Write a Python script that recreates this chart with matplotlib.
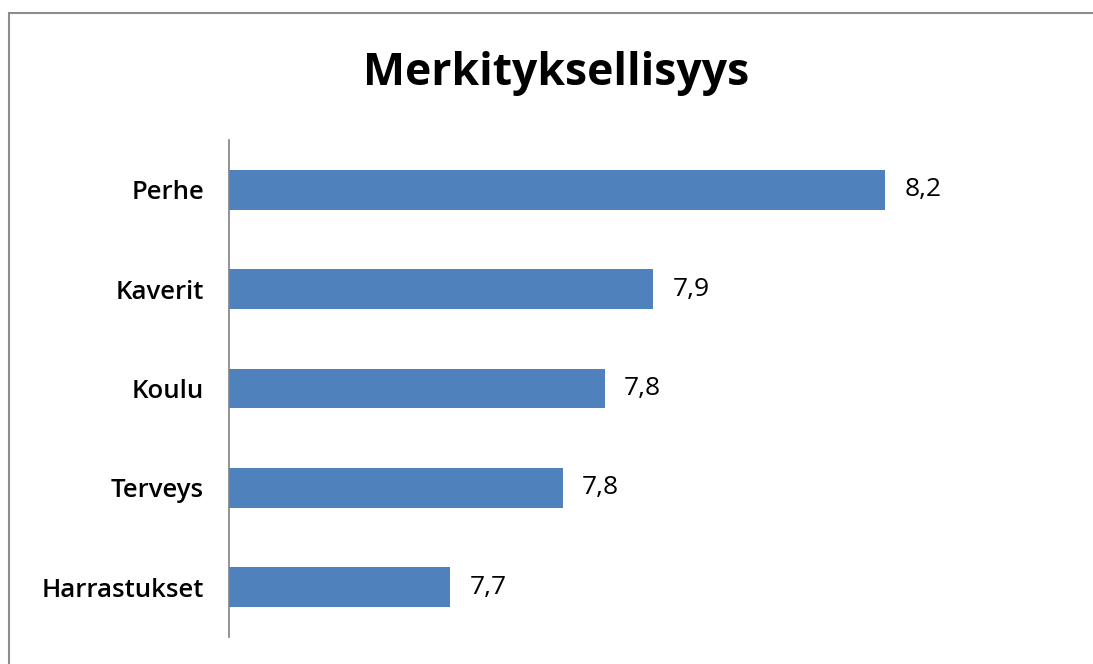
import matplotlib.pyplot as plt
from matplotlib.patches import Rectangle

categories = ["Perhe", "Kaverit", "Koulu", "Terveys", "Harrastukset"]
values = [8.19, 7.907, 7.848, 7.797, 7.66]
value_labels = ["8,2", "7,9", "7,8", "7,8", "7,7"]

W, H = 1093, 664
fig = plt.figure(figsize=(W / 100, H / 100), dpi=100)
plt.rcParams['font.family'] = ['Open Sans', 'DejaVu Sans']

# plot area in pixels of the reference
ax = fig.add_axes([229 / W, (H - 637) / H, (1000 - 229) / W, (637 - 140) / H])

xmin = 7.39
xmax = xmin + (1000 - 229) / 820
ypos = list(range(len(categories)))
ax.barh(ypos, [v - xmin for v in values], left=xmin, height=0.4, color='#4f81bd')
ax.set_xlim(xmin, xmax)
ax.set_ylim(len(categories) - 0.5, -0.5)

for y, v, lab in zip(ypos, values, value_labels):
    ax.annotate(lab, (v, y), xytext=(14, 0), textcoords='offset points',
                va='center', ha='left', fontsize=19)

ax.set_yticks(ypos)
ax.set_yticklabels(categories, fontsize=18.5, fontweight='semibold')
ax.tick_params(axis='y', length=0, pad=18)
ax.set_xticks([])
for s in ['top', 'right', 'bottom']:
    ax.spines[s].set_visible(False)
ax.spines['left'].set_color('#808080')
ax.spines['left'].set_linewidth(1.2)

fig.text(556 / W, (H - 73) / H, "Merkityksellisyys", ha='center', va='center',
         fontsize=32, fontweight='bold')

# outer chart frame (runs off the right and bottom of the image)
fig.add_artist(Rectangle((9 / W, -0.1), 1.2, (H - 13) / H + 0.1, transform=fig.transFigure,
                         fill=False, edgecolor='#8c8c8c', linewidth=1.5))

fig.savefig('out.png', dpi=100)
